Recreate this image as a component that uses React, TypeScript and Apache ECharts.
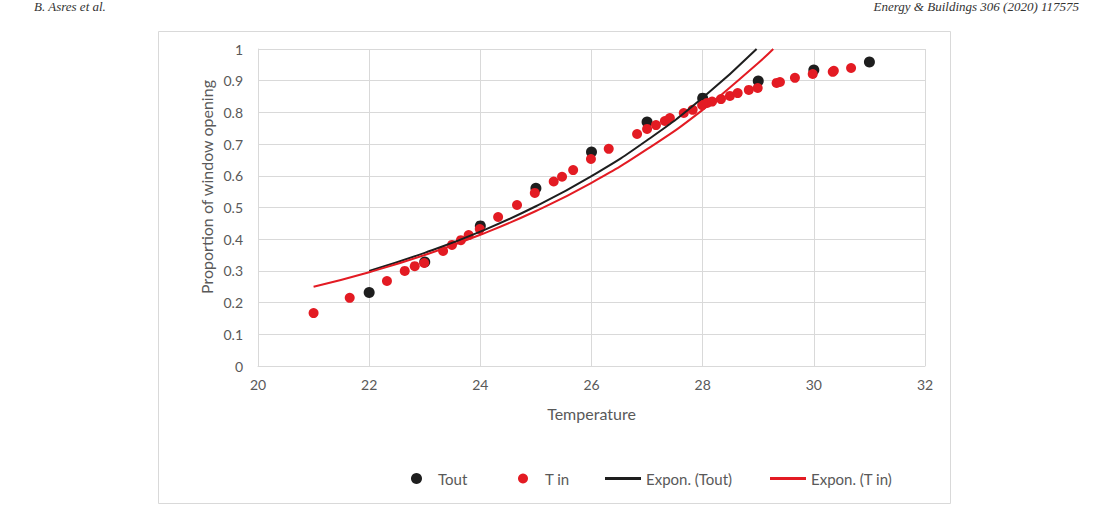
import React, { useEffect, useRef } from "react";
import * as echarts from "echarts";

// Tout observations
const toutTemp = [22, 23, 24, 25, 26, 27, 28, 29, 30, 31];
const toutProp = [0.232, 0.328, 0.442, 0.561, 0.675, 0.77, 0.845, 0.899, 0.934, 0.959];

// T in observations
const tinTemp = [
  21.0, 21.65, 22.32, 22.64, 22.82, 22.99, 23.33, 23.49, 23.65, 23.79, 23.99, 24.32, 24.66, 24.98,
  25.32, 25.47, 25.67, 25.99, 26.31, 26.82, 27.0, 27.16, 27.32, 27.41, 27.66, 27.82, 27.99, 28.08,
  28.17, 28.33, 28.49, 28.63, 28.83, 28.99, 29.33, 29.39, 29.66, 29.98, 30.34, 30.36, 30.67,
];
const tinProp = [
  0.167, 0.215, 0.268, 0.3, 0.315, 0.325, 0.363, 0.382, 0.397, 0.413, 0.432, 0.47, 0.508, 0.546,
  0.582, 0.597, 0.618, 0.653, 0.685, 0.732, 0.748, 0.76, 0.773, 0.782, 0.798, 0.808, 0.823, 0.83,
  0.834, 0.842, 0.852, 0.861, 0.871, 0.877, 0.893, 0.896, 0.909, 0.921, 0.928, 0.931, 0.94,
];

// Exponential trend line Expon. (Tout)
const expToutTemp = [22, 23, 24, 25, 26, 27, 28, 28.97];
const expToutProp = [0.3, 0.357, 0.424, 0.504, 0.599, 0.712, 0.846, 1.0];

// Exponential trend line Expon. (T in)
const expTinTemp = [21, 22, 23, 24, 25, 26, 27, 28, 29, 29.27];
const expTinProp = [0.25, 0.296, 0.35, 0.414, 0.489, 0.578, 0.684, 0.808, 0.956, 1.0];

const xMin = 20;
const xMax = 32;
const xStep = 2;
const yMin = 0;
const yMax = 1;
const yStep = 0.1;

const xTitle = "Temperature";
const yTitle = "Proportion of window opening";
const headerLeft = "B. Asres et al.";
const headerRight = "Energy & Buildings 306 (2020) 117575";

const zip = (xs: number[], ys: number[]) => xs.map((x, i) => [x, ys[i]]);

const FONT = "Lato, 'Noto Sans', sans-serif";
const GREY = "#595959";
const GRID = "#d9d9d9";
const BLACK = "#1e1e1e";
const RED = "#e31b23";

export default function App() {
  const ref = useRef<HTMLDivElement>(null);

  useEffect(() => {
    if (!ref.current) return;
    const chart = echarts.init(ref.current, null, { renderer: "svg" });
    const legendBase = {
      top: 471,
      padding: 0,
      selectedMode: false,
      textStyle: { color: GREY, fontSize: 15, fontFamily: FONT },
    };
    chart.setOption({
      animation: false,
      backgroundColor: "#ffffff",
      textStyle: { fontFamily: FONT },
      grid: { left: 258, top: 49, width: 667, height: 317, containLabel: false },
      xAxis: {
        type: "value",
        min: xMin,
        max: xMax,
        interval: xStep,
        name: xTitle,
        nameLocation: "middle",
        nameGap: 39,
        nameTextStyle: { color: GREY, fontSize: 16, fontFamily: FONT },
        axisLine: { show: true, lineStyle: { color: GRID, width: 1 } },
        axisTick: { show: false },
        axisLabel: { color: GREY, fontSize: 14, fontFamily: FONT, margin: 11 },
        splitLine: { show: true, lineStyle: { color: GRID, width: 1 } },
      },
      yAxis: {
        type: "value",
        min: yMin,
        max: yMax,
        interval: yStep,
        axisLine: { show: true, lineStyle: { color: GRID, width: 1 } },
        axisTick: { show: false },
        axisLabel: { color: GREY, fontSize: 14, fontFamily: FONT, margin: 15 },
        splitLine: { show: true, lineStyle: { color: GRID, width: 1 } },
      },
      legend: [
        {
          ...legendBase,
          left: 411,
          itemWidth: 11,
          itemHeight: 11,
          data: [{ name: "Tout", icon: "circle" }],
          textStyle: { ...legendBase.textStyle, padding: [0, 0, 0, 11] },
        },
        {
          ...legendBase,
          left: 518,
          itemWidth: 10,
          itemHeight: 10,
          data: [{ name: "T in", icon: "circle" }],
          textStyle: { ...legendBase.textStyle, padding: [0, 0, 0, 12] },
        },
        {
          ...legendBase,
          left: 605,
          itemWidth: 36,
          itemHeight: 3,
          data: [{ name: "Expon. (Tout)", icon: "rect" }],
        },
        {
          ...legendBase,
          left: 770,
          itemWidth: 36,
          itemHeight: 3,
          data: [{ name: "Expon. (T in)", icon: "rect" }],
        },
      ],
      graphic: [
        {
          type: "rect",
          silent: true,
          z: -10,
          shape: { x: 158.5, y: 31.5, width: 792, height: 472 },
          style: { fill: "none", stroke: GRID, lineWidth: 1 },
        },
        {
          type: "text",
          silent: true,
          x: 34,
          y: 0,
          style: {
            text: headerLeft,
            font: "italic 13px 'Liberation Serif', serif",
            fill: "#333333",
            align: "left",
            verticalAlign: "top",
          },
        },
        {
          type: "text",
          silent: true,
          x: 1079,
          y: 0,
          style: {
            text: headerRight,
            font: "italic 13px 'Liberation Serif', serif",
            fill: "#333333",
            align: "right",
            verticalAlign: "top",
          },
        },
        {
          type: "text",
          silent: true,
          x: 206,
          y: 187,
          rotation: Math.PI / 2,
          style: {
            text: yTitle,
            font: "16px Lato, 'Noto Sans', sans-serif",
            fill: GREY,
            align: "center",
            verticalAlign: "middle",
          },
        },
      ],
      series: [
        {
          name: "Tout",
          type: "scatter",
          data: zip(toutTemp, toutProp),
          symbol: "circle",
          symbolSize: 11,
          itemStyle: { color: BLACK, opacity: 1 },
          z: 2,
        },
        {
          name: "T in",
          type: "scatter",
          data: zip(tinTemp, tinProp),
          symbol: "circle",
          symbolSize: 10,
          itemStyle: { color: RED, opacity: 1 },
          z: 3,
        },
        {
          name: "Expon. (Tout)",
          type: "line",
          data: zip(expToutTemp, expToutProp),
          smooth: true,
          showSymbol: false,
          symbol: "none",
          lineStyle: { color: BLACK, width: 2 },
          itemStyle: { color: BLACK },
          z: 4,
        },
        {
          name: "Expon. (T in)",
          type: "line",
          data: zip(expTinTemp, expTinProp),
          smooth: true,
          showSymbol: false,
          symbol: "none",
          lineStyle: { color: RED, width: 2 },
          itemStyle: { color: RED },
          z: 5,
        },
      ],
    });
    return () => chart.dispose();
  }, []);

  return (
    <div
      ref={ref}
      style={{ position: "absolute", left: 0, top: 0, width: 1111, height: 515, background: "#fff" }}
    />
  );
}
